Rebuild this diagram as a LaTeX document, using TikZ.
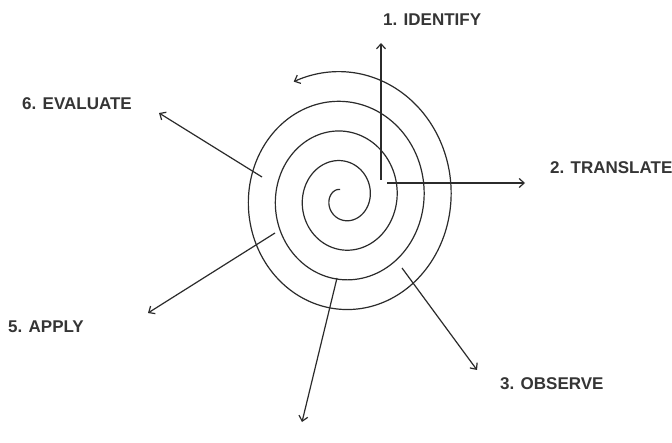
\documentclass[tikz,border=0pt]{standalone}
\usepackage{fontspec}
\setmainfont{Liberation Sans}
\usetikzlibrary{arrows.meta}
\definecolor{inkc}{HTML}{2B2B2B}
\definecolor{txtc}{HTML}{353535}
\begin{document}
\begin{tikzpicture}[x=1pt,y=-1pt,
  ln/.style={draw=inkc, line width=1.2pt},
  arr/.style={ln, -{Straight Barb[length=5pt,width=9pt]}},
  lbl/.style={text=txtc, font=\fontsize{17}{20}\selectfont\bfseries, inner sep=0pt, anchor=west}]
\fill[white] (0,0) rectangle (672,443);
\useasboundingbox (0,0) rectangle (672,443);
% spiral
\draw[arr] plot[domain=110:1555, samples=500, variable=\t, smooth]
  ({343 + 4.3*(\t*pi/180)*cos(\t)}, {198 - 1.1*4.3*(\t*pi/180)*sin(\t)});
% labels
\node[lbl] (l1) at (383,20) {1. IDENTIFY};
\node[lbl] (l2) at (550,168) {2. TRANSLATE};
\node[lbl] (l3) at (500,384) {3. OBSERVE};
\node[lbl] (l5) at (8,327) {5. APPLY};
\node[lbl] (l6) at (22,104) {6. EVALUATE};
% arrow ends
\coordinate (a1s) at (381,180); \coordinate (a1e) at (381,43);
\coordinate (a2s) at (387,183); \coordinate (a2e) at (525,183);
\coordinate (a3s) at (402,268); \coordinate (a3e) at (477,370);
\coordinate (a4s) at (337,278); \coordinate (a4e) at (302,422);
\coordinate (a5s) at (275,233); \coordinate (a5e) at (148,313);
\coordinate (a6s) at (262,177); \coordinate (a6e) at (159,113);
\draw[arr] (a1s) -- (a1e);
\draw[arr] (a2s) -- (a2e);
\draw[arr] (a3s) -- (a3e);
\draw[arr] (a4s) -- (a4e);
\draw[arr] (a5s) -- (a5e);
\draw[arr] (a6s) -- (a6e);
\end{tikzpicture}
\end{document}
